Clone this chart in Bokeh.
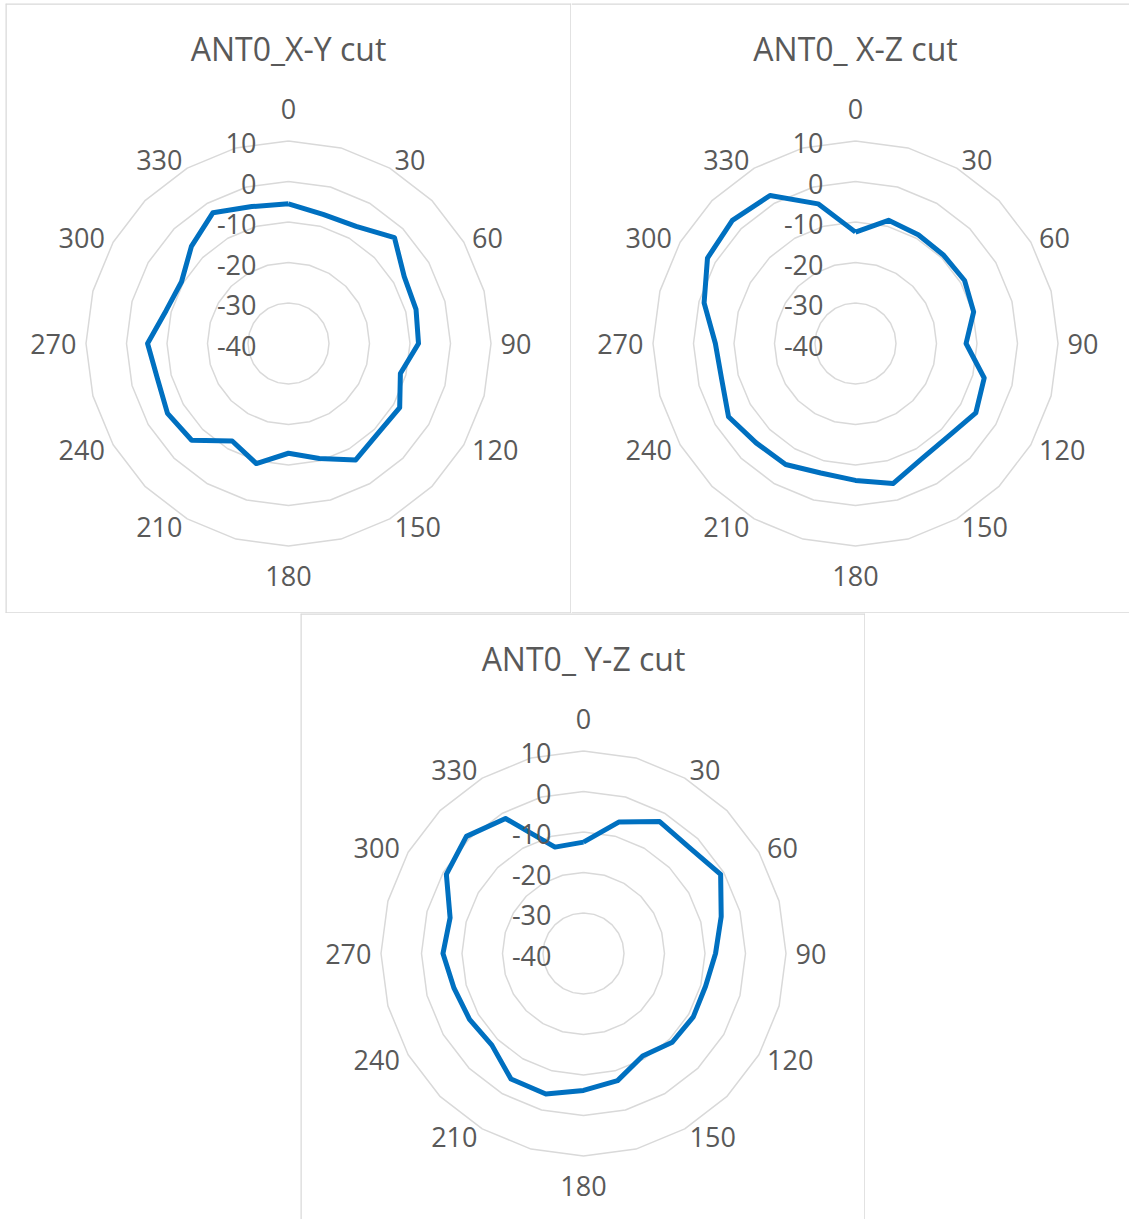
import math
from bokeh.plotting import figure
from bokeh.models import Range1d, Spacer
from bokeh.layouts import column, row
from bokeh.embed import file_html
from bokeh.resources import INLINE
from bokeh.core.properties import value

# ---------------- data ----------------
angles = list(range(0, 360, 15))
xy_cut = [-5.5, -7.0, -6.6, -3.0, -7.0, -7.4, -7.9, -11.4, -8.3, -8.7, -6.8, -10.6,
          -12.9, -9.3, -12.2, -6.2, -5.5, -6.5, -5.2, -8.7, -9.5, -6.1, -2.7, -5.0]
xz_cut = [-12.5, -8.5, -9.0, -9.2, -8.9, -9.8, -12.7, -7.1, -5.7, -7.6, -7.2, -4.2,
          -6.2, -6.9, -5.5, -5.3, -3.8, -5.8, -5.4, -1.3, 2.2, 3.0, 2.2, -4.3]
yz_cut = [-12.5, -6.4, -2.4, -3.0, -0.9, -4.8, -7.4, -8.8, -8.7, -9.0, -10.8, -7.5,
          -6.2, -4.1, -4.2, -8.0, -7.5, -6.9, -5.3, -5.9, -0.9, 0.9, -1.5, -12.8]
label_angles = list(range(0, 360, 30))
label_texts = [str(a) for a in label_angles]
r_ticks = [-40, -30, -20, -10, 0, 10]
r_min, r_max = -40, 10
titles = ["ANT0_X-Y cut", "ANT0_ X-Z cut", "ANT0_ Y-Z cut"]

# ---------------- style ----------------
FONT = "Open Sans"
TXT = "#595959"
GRID = "#d9d9d9"
BLUE = "#0070c0"
R_OUT = 202.5
LBL_R = 212


def rad(v):
    return (v - r_min) / (r_max - r_min) * R_OUT


def pol(v, a):
    t = math.radians(a)
    r = rad(v)
    return r * math.sin(t), r * math.cos(t)


def panel(title, vals, W, H, cx, cy, edges):
    p = figure(width=W, height=H, output_backend="svg", toolbar_location=None,
               x_range=Range1d(-cx, W - cx), y_range=Range1d(-(H - cy), cy),
               min_border=0, outline_line_color=None)
    p.axis.visible = False
    p.grid.visible = False
    p.background_fill_color = "white"
    p.border_fill_color = "white"

    # panel borders
    L, R, T, B = -cx, W - cx, cy, -(H - cy)
    segs = {"left": (L, B, L, T), "right": (R, B, R, T), "top": (L, T, R, T), "bottom": (L, B, R, B)}
    for e in edges:
        x0, y0, x1, y1 = segs[e]
        p.segment(x0=[x0], y0=[y0], x1=[x1], y1=[y1], line_color=GRID, line_width=2.5)

    # grid rings (polygons through each category)
    xs, ys = [], []
    for lev in r_ticks[1:]:
        pts = [pol(lev, a) for a in angles] + [pol(lev, angles[0])]
        xs.append([q[0] for q in pts])
        ys.append([q[1] for q in pts])
    p.multi_line(xs=xs, ys=ys, line_color=GRID, line_width=1.5)

    # data line
    pts = [pol(v, a) for v, a in zip(vals, angles)] + [pol(vals[0], angles[0])]
    p.line([q[0] for q in pts], [q[1] for q in pts], line_color=BLUE, line_width=5,
           line_join="round")

    # radial tick labels
    p.text(x=[-32] * len(r_ticks), y=[rad(v) - 2 for v in r_ticks],
           text=[str(v) for v in r_ticks], text_align="right", text_baseline="middle",
           text_font=value(FONT), text_font_size="27px", text_color=TXT)

    # category labels
    groups = {}
    for a, s in zip(label_angles, label_texts):
        t = math.radians(a)
        x, y = LBL_R * math.sin(t), LBL_R * math.cos(t)
        if a == 0:
            key = "center"
            y = LBL_R + 23
        elif a == 180:
            key = "center"
            y = -(LBL_R + 20)
        elif a < 180:
            key = "left"
        else:
            key = "right"
        groups.setdefault(key, ([], [], []))
        groups[key][0].append(x)
        groups[key][1].append(y)
        groups[key][2].append(s)
    for al, (gx, gy, gt) in groups.items():
        p.text(x=gx, y=gy, text=gt, text_align=al, text_baseline="middle",
               text_font=value(FONT), text_font_size="27px", text_color=TXT)

    # title
    p.text(x=[0], y=[295], text=[title], text_align="center", text_baseline="middle",
           text_font=value(FONT), text_font_size="32px", text_color=TXT)
    return p


f1 = panel(titles[0], xy_cut, 566, 610, 283, 340, ["left", "top", "right", "bottom"])
f2 = panel(titles[1], xz_cut, 558, 610, 284, 340, ["top", "bottom"])
f3 = panel(titles[2], yz_cut, 565, 606, 283, 340, ["left", "top", "right"])

layout = column(
    Spacer(width=10, height=3),
    row(Spacer(width=5, height=10), f1, f2, spacing=0),
    row(Spacer(width=300, height=10), f3, spacing=0),
    spacing=0,
)

with open("out.html", "w") as fh:
    fh.write(file_html(layout, INLINE))
